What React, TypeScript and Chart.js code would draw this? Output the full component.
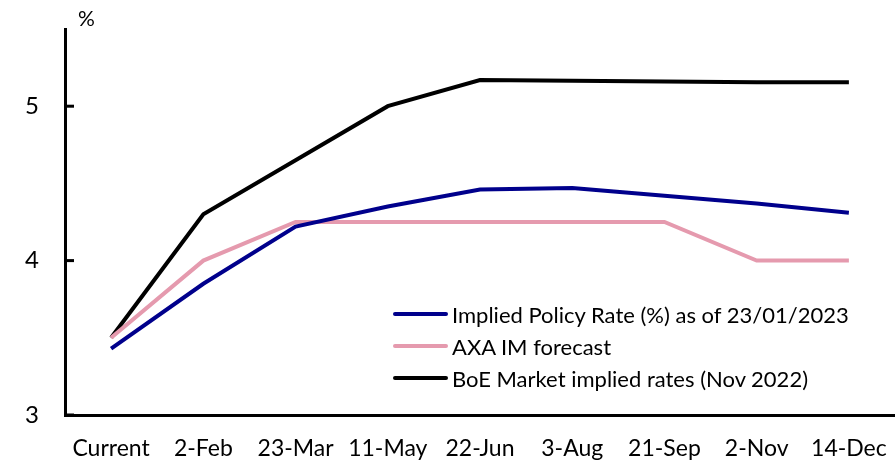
import React, { useEffect, useRef } from "react";
import { Chart, registerables } from "chart.js";

Chart.register(...registerables);

const categories = ["Current", "2-Feb", "23-Mar", "11-May", "22-Jun", "3-Aug", "21-Sep", "2-Nov", "14-Dec"];
const impliedPolicyRate = [3.43, 3.85, 4.22, 4.35, 4.46, 4.47, 4.42, 4.37, 4.31];
const axaForecast = [3.5, 4.0, 4.25, 4.25, 4.25, 4.25, 4.25, 4.0, 4.0];
const boeMarket = [3.5, 4.3, 4.65, 5.0, 5.17, 5.165, 5.16, 5.155, 5.155];
const yTicks = [3, 4, 5];

const seriesNames = [
  "Implied Policy Rate (%) as of 23/01/2023",
  "AXA IM forecast",
  "BoE Market implied rates (Nov 2022)",
];
const seriesColors = ["#00008c", "#e59aae", "#000000"];

const FONT = "Lato, 'Open Sans', sans-serif";

export default function App() {
  const ref = useRef<HTMLCanvasElement | null>(null);
  useEffect(() => {
    if (!ref.current) return;
    const innerTicks = {
      id: "innerTicks",
      afterDraw(chart: any) {
        const ctx = chart.ctx;
        const y = chart.scales.y;
        const left = chart.chartArea.left;
        ctx.save();
        ctx.fillStyle = "#000000";
        yTicks.forEach((v) => {
          const py = y.getPixelForValue(v);
          ctx.fillRect(left, py - 1.5, 9, 3);
        });
        ctx.restore();
      },
    };
    const chart = new Chart(ref.current, {
      type: "line",
      data: {
        labels: categories,
        datasets: [
          { label: seriesNames[0], data: impliedPolicyRate, borderColor: seriesColors[0], borderWidth: 4, pointRadius: 0, tension: 0 },
          { label: seriesNames[1], data: axaForecast, borderColor: seriesColors[1], borderWidth: 4, pointRadius: 0, tension: 0 },
          { label: seriesNames[2], data: boeMarket, borderColor: seriesColors[2], borderWidth: 4, pointRadius: 0, tension: 0 },
        ],
      },
      options: {
        animation: false,
        responsive: false,
        layout: { padding: { top: 29, left: 0, right: 0, bottom: 0 } },
        plugins: { legend: { display: false }, tooltip: { enabled: false } },
        scales: {
          x: {
            offset: true,
            grid: { display: false, drawTicks: false },
            border: { color: "#000", width: 3 },
            ticks: { color: "#000", font: { family: FONT, size: 23 }, padding: 20, maxRotation: 0, autoSkip: false },
            afterFit: (s: any) => { s.height = 45; s.paddingLeft = 0; s.paddingRight = 0; },
          },
          y: {
            min: 3,
            max: 5.5,
            grid: { display: false, drawTicks: false },
            border: { color: "#000", width: 3 },
            ticks: { color: "#000", font: { family: FONT, size: 24 }, padding: 26, stepSize: 1 },
            afterBuildTicks: (s: any) => { s.ticks = yTicks.map((v) => ({ value: v })); },
            afterFit: (s: any) => { s.width = 65; s.paddingTop = 0; s.paddingBottom = 0; },
          },
        },
      },
      plugins: [innerTicks],
    });
    return () => chart.destroy();
  }, []);

  return (
    <div style={{ position: "absolute", left: 0, top: 0, width: 895, height: 460, background: "#fff", fontFamily: FONT }}>
      <canvas ref={ref} width={895} height={460} style={{ width: 895, height: 460, display: "block" }} />
      <div style={{ position: "absolute", left: 78, top: 5, fontSize: 21, color: "#000" }}>%</div>
      <div style={{ position: "absolute", left: 393, top: 298 }}>
        {seriesNames.map((n, i) => (
          <div key={n} style={{ display: "flex", alignItems: "center", height: 32 }}>
            <div style={{ width: 55, height: 4, background: seriesColors[i], borderRadius: 2, marginRight: 4 }} />
            <span style={{ fontSize: 22, color: "#000", whiteSpace: "nowrap" }}>{n}</span>
          </div>
        ))}
      </div>
    </div>
  );
}
